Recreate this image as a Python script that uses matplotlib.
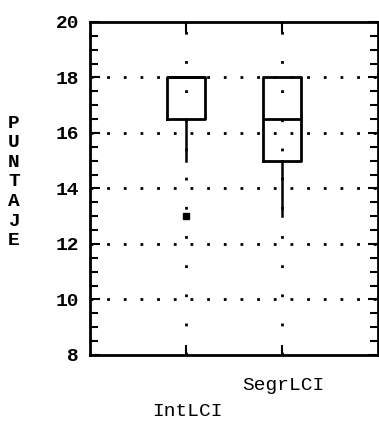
import matplotlib
matplotlib.use("Agg")
import matplotlib.pyplot as plt

categories = ["IntLCI", "SegrLCI"]
q1 = [16.5, 15.0]
med = [18.0, 16.5]
q3 = [18.0, 18.0]
whislo = [15.0, 13.0]
whishi = [18.0, 18.0]
fliers = [[13.0], []]
yticks = [8, 10, 12, 14, 16, 18, 20]

FONT = "Liberation Mono"

fig = plt.figure(figsize=(3.79, 4.21), dpi=100)
ax = fig.add_axes([0.2375, 0.157, 0.76, 0.791])

stats = []
for i, c in enumerate(categories):
    stats.append(dict(label=c, q1=q1[i], med=med[i], q3=q3[i],
                      whislo=whislo[i], whishi=whishi[i], fliers=fliers[i]))

ax.bxp(stats, positions=[1, 2], widths=0.4, showcaps=False,
       boxprops=dict(color="black", linewidth=2),
       medianprops=dict(color="black", linewidth=2),
       whiskerprops=dict(color="black", linewidth=1.8),
       flierprops=dict(marker="s", markersize=4, markerfacecolor="black",
                       markeredgecolor="black"))

ax.set_xlim(0, 3)
ax.set_ylim(8, 20)

for y in yticks[1:-1]:
    ax.axhline(y, color="black", linewidth=2, linestyle=(0, (1, 5)), zorder=0)
for x in [1, 2]:
    ax.axvline(x, color="black", linewidth=2, linestyle=(0, (1, 9.5)), zorder=0)

ax.set_yticks(yticks)
ax.set_yticks([y / 2 for y in range(16, 41)], minor=True)
ax.set_yticklabels([str(t) for t in yticks], fontfamily=FONT, fontsize=14,
                   fontweight="bold")
ax.tick_params(axis="y", which="both", direction="in", left=True, right=True,
               width=1.5, pad=8)
ax.tick_params(axis="y", which="major", length=7)
ax.tick_params(axis="y", which="minor", length=6)

ax.set_xticks([1, 2])
ax.set_xticklabels([])
ax.tick_params(axis="x", direction="in", top=True, bottom=True, length=7, width=1.5)

for s in ax.spines.values():
    s.set_linewidth(2)

# staggered category labels
fig.text(187 / 379, 1 - 412 / 421, categories[0], ha="center", va="center",
         fontfamily=FONT, fontsize=14)
fig.text(283 / 379, 1 - 385 / 421, categories[1], ha="center", va="center",
         fontfamily=FONT, fontsize=14)

# stacked vertical label
fig.text(14 / 379, 1 - 182 / 421, "P\nU\nN\nT\nA\nJ\nE", ha="center",
         va="center", fontfamily=FONT, fontsize=14, fontweight="bold",
         linespacing=1.2)

fig.savefig("out.png", dpi=100)
